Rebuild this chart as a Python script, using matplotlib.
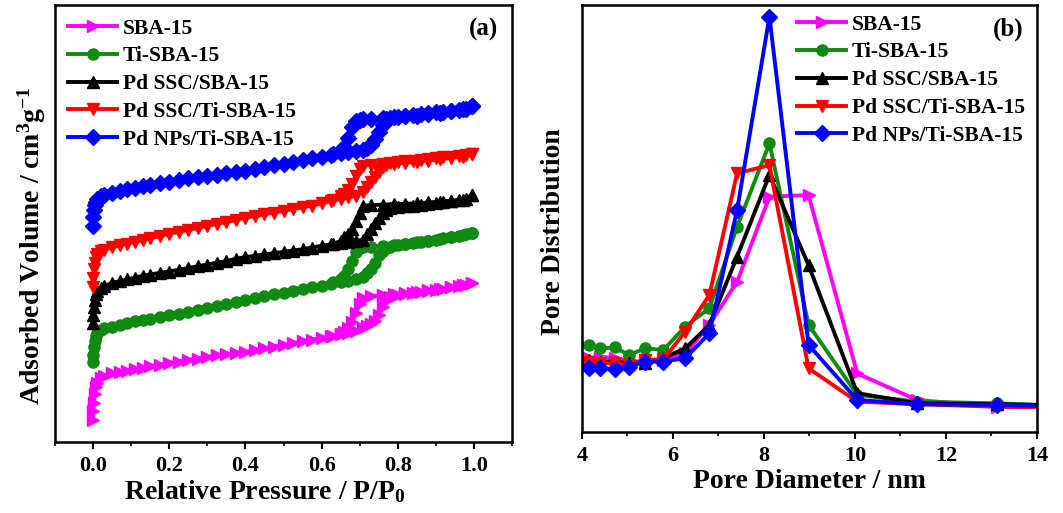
import matplotlib
matplotlib.use('Agg')
import matplotlib.pyplot as plt
from matplotlib.ticker import MultipleLocator, NullLocator

plt.rcParams['font.family'] = 'Liberation Serif'
plt.rcParams['font.weight'] = 'bold'
plt.rcParams['mathtext.fontset'] = 'custom'
plt.rcParams['mathtext.rm'] = 'Liberation Serif:bold'
plt.rcParams['mathtext.bf'] = 'Liberation Serif:bold'
plt.rcParams['mathtext.it'] = 'Liberation Serif:bold'

labels = ['SBA-15', 'Ti-SBA-15', 'Pd SSC/SBA-15', 'Pd SSC/Ti-SBA-15', 'Pd NPs/Ti-SBA-15']
colors = ['#FF00FF', '#118A11', '#000000', '#FF0000', '#0000FF']
markers = ['>', 'o', '^', 'v', 'D']

# (a) N2 isotherms, relative pressure grids
p_ads = [0.0005, 0.001, 0.002, 0.004, 0.007, 0.01, 0.02, 0.03, 0.05, 0.07, 0.09, 0.11,
         0.13, 0.15, 0.175, 0.2, 0.225, 0.25, 0.275, 0.3, 0.325, 0.35, 0.375, 0.4, 0.425,
         0.45, 0.475, 0.5, 0.525, 0.55, 0.575, 0.6, 0.625, 0.65, 0.67, 0.69, 0.71, 0.72,
         0.73, 0.74, 0.75, 0.76, 0.77, 0.78, 0.80, 0.82, 0.84, 0.86, 0.88, 0.90, 0.92,
         0.94, 0.96, 0.98, 0.995]
p_des = [0.995, 0.97, 0.94, 0.91, 0.88, 0.85, 0.82, 0.79, 0.76, 0.73, 0.71, 0.70, 0.69,
         0.68, 0.67, 0.66, 0.65, 0.63]

sba_ads = [5.0, 7.0, 9.0, 11.0, 12.5, 13.5, 14.6, 15.1, 15.8, 16.0, 16.3, 16.6, 16.9, 17.3,
           17.7, 18.1, 18.4, 18.8, 19.1, 19.5, 19.8, 20.1, 20.4, 20.6, 21.0, 21.4, 21.8,
           22.2, 22.6, 23.0, 23.4, 23.8, 24.2, 24.6, 25.0, 25.5, 26.1, 26.5, 27.0, 27.6,
           29.0, 30.8, 32.3, 33.2, 33.6, 33.8, 34.0, 34.3, 34.5, 34.8, 35.1, 35.4, 35.7,
           36.0, 36.4]
sba_des = [36.4, 35.9, 35.5, 35.1, 34.7, 34.4, 34.1, 33.8, 33.6, 33.4, 33.0, 31.5, 29.5,
           27.5, 26.0, 25.2, 24.8, 24.3]

ti_ads = [18.3, 20.0, 21.8, 23.2, 24.3, 24.9, 25.6, 26.0, 26.4, 26.8, 27.2, 27.6, 27.9,
          28.2, 28.6, 29.0, 29.4, 29.8, 30.2, 30.6, 31.1, 31.6, 32.0, 32.5, 33.0, 33.4,
          33.8, 34.2, 34.6, 35.0, 35.4, 35.8, 36.2, 36.6, 36.9, 37.3, 37.8, 38.6, 39.5,
          41.0, 42.8, 43.8, 44.4, 44.7, 45.0, 45.3, 45.6, 45.8, 46.0, 46.3, 46.6, 46.9,
          47.2, 47.5, 47.8]
ti_des = [47.8, 47.3, 46.9, 46.4, 46.0, 45.7, 45.4, 45.1, 44.9, 44.7, 44.6, 44.4, 43.5,
          41.5, 39.5, 38.0, 37.2, 36.5]

pdsba_ads = [27.2, 29.0, 31.0, 32.5, 33.8, 34.5, 35.2, 35.7, 36.4, 36.8, 37.2, 37.6, 38.0,
             38.3, 38.7, 39.0, 39.4, 39.8, 40.2, 40.6, 41.0, 41.4, 41.9, 42.3, 42.6, 42.9,
             43.2, 43.5, 43.8, 44.1, 44.5, 44.9, 45.2, 45.5, 45.8, 46.0, 46.3, 47.6, 48.8,
             50.1, 51.3, 52.4, 53.0, 53.5, 53.7, 53.9, 54.1, 54.3, 54.5, 54.7, 54.9, 55.1,
             55.3, 55.5, 56.5]
pdsba_des = [56.5, 55.4, 55.2, 55.0, 54.8, 54.6, 54.5, 54.4, 54.3, 54.2, 54.1, 52.5, 50.5,
             48.8, 47.5, 46.9, 46.0, 45.3]

pdti_ads = [35.5, 37.5, 39.5, 41.0, 42.3, 43.0, 43.6, 44.0, 44.6, 45.0, 45.4, 45.8, 46.2,
            46.6, 47.1, 47.6, 48.1, 48.5, 49.0, 49.4, 49.9, 50.3, 50.8, 51.3, 51.7, 52.1,
            52.5, 52.9, 53.3, 53.7, 54.1, 54.6, 55.1, 55.6, 56.0, 56.3, 57.2, 58.4, 59.5,
            60.6, 61.8, 62.9, 63.4, 63.8, 64.0, 64.2, 64.4, 64.6, 64.8, 65.0, 65.2, 65.3,
            65.5, 65.6, 65.9]
pdti_des = [65.9, 65.3, 65.0, 64.7, 64.4, 64.1, 63.9, 63.7, 63.5, 63.4, 63.2, 62.5, 60.8,
            59.0, 57.7, 56.8, 56.2, 55.3]

np_ads = [49.5, 51.5, 53.0, 54.2, 55.0, 55.6, 56.2, 56.6, 57.0, 57.4, 57.8, 58.2, 58.6,
          58.9, 59.3, 59.6, 60.0, 60.3, 60.6, 60.9, 61.2, 61.5, 61.8, 62.1, 62.5, 62.9,
          63.3, 63.7, 64.1, 64.5, 64.9, 65.3, 65.7, 66.1, 66.3, 66.5, 66.8, 67.3, 68.0,
          69.3, 71.0, 72.6, 73.8, 74.2, 74.4, 74.6, 74.8, 75.0, 75.2, 75.4, 75.6, 75.8,
          76.0, 76.3, 76.8]
np_des = [76.8, 76.1, 75.7, 75.3, 75.0, 74.7, 74.5, 74.3, 74.2, 74.0, 73.9, 73.7, 73.5,
          72.0, 69.5, 67.5, 66.8, 66.0]

iso_ads = [sba_ads, ti_ads, pdsba_ads, pdti_ads, np_ads]
iso_des = [sba_des, ti_des, pdsba_des, pdti_des, np_des]

# (b) pore size distribution
d_pore = [3.9, 4.15, 4.40, 4.73, 5.03, 5.39, 5.79, 6.27, 6.80, 7.41, 8.12, 8.98, 10.05,
          11.36, 13.12, 14.3]
psd_sba = [17.0, 17.3, 17.6, 17.3, 16.5, 16.5, 16.9, 18.4, 25.1, 35.2, 55.1, 55.5, 13.7, 7.5, 5.9, 5.8]
psd_ti = [20.9, 20.4, 19.6, 19.8, 18.0, 19.6, 19.2, 24.7, 29.0, 48.1, 67.6, 25.1, 8.7, 7.1, 6.7, 6.2]
psd_pdsba = [17.0, 16.9, 16.5, 16.5, 16.1, 16.1, 17.3, 19.6, 25.1, 41.1, 60.2, 39.1, 9.1, 6.7, 6.5, 6.3]
psd_pdti = [16.3, 16.5, 16.1, 16.1, 15.7, 16.9, 17.0, 23.5, 32.1, 60.6, 62.5, 14.9, 7.1, 6.5, 5.9, 5.8]
psd_np = [15.5, 14.9, 14.9, 14.7, 15.3, 16.5, 16.5, 17.3, 23.1, 52.0, 97.3, 20.4, 7.5, 6.5, 6.3, 6.1]
psd = [psd_sba, psd_ti, psd_pdsba, psd_pdti, psd_np]

fig = plt.figure(figsize=(10.63, 5.13), dpi=100)
ax1 = fig.add_axes([0.0517, 0.1384, 0.430, 0.852])
ax2 = fig.add_axes([0.5475, 0.158, 0.428, 0.832])

lw = 2.8
ms = 8
for i in range(5):
    ax1.plot(p_ads, iso_ads[i], color=colors[i], marker=markers[i], ms=ms, lw=lw,
             label=labels[i])
    ax1.plot(p_des, iso_des[i], color=colors[i], marker=markers[i], ms=ms, lw=lw)
    ax2.plot(d_pore, psd[i], color=colors[i], marker=markers[i], ms=ms, lw=lw,
             label=labels[i])

ax1.set_xlim(-0.1, 1.1)
ax1.set_ylim(0, 100)
ax1.xaxis.set_major_locator(MultipleLocator(0.2))
ax1.xaxis.set_minor_locator(MultipleLocator(0.1))
ax1.set_xlabel('Relative Pressure / P/P$_0$', fontsize=20, fontweight='bold', labelpad=2)
ax1.xaxis.label.set_x(0.46)
ax1.set_ylabel('Adsorbed Volume / cm$^3$g$^{-1}$', fontsize=20, fontweight='bold')
ax1.yaxis.set_label_coords(-0.015, 0.45)
ax1.text(0.97, 0.97, '(a)', transform=ax1.transAxes, ha='right', va='top',
         fontsize=18, fontweight='bold')

ax2.set_xlim(4, 14)
ax2.set_ylim(0, 100)
ax2.xaxis.set_major_locator(MultipleLocator(2))
ax2.xaxis.set_minor_locator(MultipleLocator(1))
ax2.set_xlabel('Pore Diameter / nm', fontsize=20, fontweight='bold', labelpad=2)
ax2.set_ylabel('Pore Distribution', fontsize=20, fontweight='bold')
ax2.yaxis.set_label_coords(-0.035, 0.47)
ax2.text(0.97, 0.97, '(b)', transform=ax2.transAxes, ha='right', va='top',
         fontsize=18, fontweight='bold')

for ax in (ax1, ax2):
    ax.yaxis.set_major_locator(NullLocator())
    ax.yaxis.set_minor_locator(NullLocator())
    for s in ax.spines.values():
        s.set_linewidth(1.8)
    ax.tick_params(axis='x', which='major', direction='out', length=5, width=1.5,
                   labelsize=16, pad=5)
    ax.tick_params(axis='x', which='minor', direction='out', length=3, width=1.2)
    for t in ax.get_xticklabels():
        t.set_fontweight('bold')

leg_kw = dict(frameon=False, numpoints=1, handlelength=2.3,
              handletextpad=0.25, labelspacing=0.36, borderpad=0, borderaxespad=0,
              prop={'weight': 'bold', 'size': 15.5})
ax1.legend(loc='upper left', bbox_to_anchor=(0.028, 0.969), **leg_kw)
ax2.legend(loc='upper left', bbox_to_anchor=(0.4725, 0.978), **leg_kw)

fig.savefig('out.png', dpi=100)
